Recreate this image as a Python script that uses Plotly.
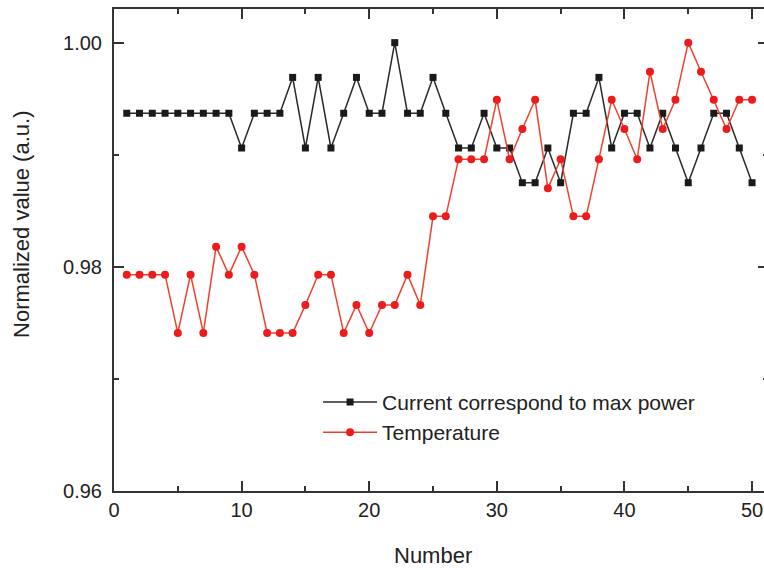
import plotly.graph_objects as go

number = list(range(1, 51))

current_max_power = [
    0.9937, 0.9937, 0.9937, 0.9937, 0.9937, 0.9937, 0.9937, 0.9937, 0.9937, 0.9906,
    0.9937, 0.9937, 0.9937, 0.9969, 0.9906, 0.9969, 0.9906, 0.9937, 0.9969, 0.9937,
    0.9937, 1.0000, 0.9937, 0.9937, 0.9969, 0.9937, 0.9906, 0.9906, 0.9937, 0.9906,
    0.9906, 0.9875, 0.9875, 0.9906, 0.9875, 0.9937, 0.9937, 0.9969, 0.9906, 0.9937,
    0.9937, 0.9906, 0.9937, 0.9906, 0.9875, 0.9906, 0.9937, 0.9937, 0.9906, 0.9875,
]

temperature = [
    0.9793, 0.9793, 0.9793, 0.9793, 0.9741, 0.9793, 0.9741, 0.9818, 0.9793, 0.9818,
    0.9793, 0.9741, 0.9741, 0.9741, 0.9766, 0.9793, 0.9793, 0.9741, 0.9766, 0.9741,
    0.9766, 0.9766, 0.9793, 0.9766, 0.9845, 0.9845, 0.9896, 0.9896, 0.9896, 0.9949,
    0.9896, 0.9923, 0.9949, 0.9870, 0.9896, 0.9845, 0.9845, 0.9896, 0.9949, 0.9923,
    0.9896, 0.9974, 0.9923, 0.9949, 1.0000, 0.9974, 0.9949, 0.9923, 0.9949, 0.9949,
]

x_ticks = [0, 10, 20, 30, 40, 50]
y_ticks = [0.96, 0.98, 1.00]
y_tick_labels = ["0.96", "0.98", "1.00"]
x_title = "Number"
y_title = "Normalized value (a.u.)"

FONT = "Liberation Sans, Arial, sans-serif"
AXIS_COLOR = "#333333"
TEXT_COLOR = "#222222"

fig = go.Figure()
fig.add_trace(go.Scatter(
    x=number, y=current_max_power, mode="lines+markers",
    name="Current correspond to max power",
    line=dict(color="#2a2a2a", width=1.5),
    marker=dict(symbol="square", size=7, color="#1a1a1a"),
))
fig.add_trace(go.Scatter(
    x=number, y=temperature, mode="lines+markers",
    name="Temperature",
    line=dict(color="#f0402e", width=1.5),
    marker=dict(symbol="circle", size=8, color="#ec1c1c"),
))

axis_common = dict(
    showline=True, linecolor=AXIS_COLOR, linewidth=2, mirror="ticks",
    ticks="inside", ticklen=10, tickwidth=2, tickcolor=AXIS_COLOR,
    showgrid=False, zeroline=False, automargin=False,
    tickfont=dict(family=FONT, size=20, color=TEXT_COLOR),
)

fig.update_xaxes(
    range=[0, 51.25], tickvals=x_ticks,
    minor=dict(ticks="inside", ticklen=5, tickwidth=2, tickcolor=AXIS_COLOR, dtick=5, tick0=0),
    **axis_common,
)
fig.update_yaxes(
    range=[0.96, 1.003], tickvals=y_ticks, ticktext=y_tick_labels,
    minor=dict(ticks="inside", ticklen=5, tickwidth=2, tickcolor=AXIS_COLOR, dtick=0.01, tick0=0.96),
    ticklabelstandoff=6,
    **axis_common,
)

fig.add_annotation(
    text=x_title, xref="paper", yref="paper", x=0.4878, y=-0.1328,
    xanchor="center", yanchor="middle", showarrow=False,
    font=dict(family=FONT, size=22, color=TEXT_COLOR),
)
fig.add_annotation(
    text=y_title, xref="paper", yref="paper", x=-0.1407, y=0.554,
    xanchor="center", yanchor="middle", showarrow=False, textangle=-90,
    font=dict(family=FONT, size=22, color=TEXT_COLOR),
)

fig.update_layout(
    width=768, height=570,
    margin=dict(l=114, r=0, t=9, b=79),
    plot_bgcolor="white", paper_bgcolor="white",
    showlegend=True,
    legend=dict(
        x=0.312, y=0.2265, xanchor="left", yanchor="top",
        bgcolor="rgba(0,0,0,0)", borderwidth=0,
        font=dict(family=FONT, size=21, color=TEXT_COLOR),
        itemwidth=54,
    ),
)

fig.write_html("out.html", config={"displayModeBar": False},
               post_script="document.body.style.margin='0';document.body.style.overflow='hidden';")
